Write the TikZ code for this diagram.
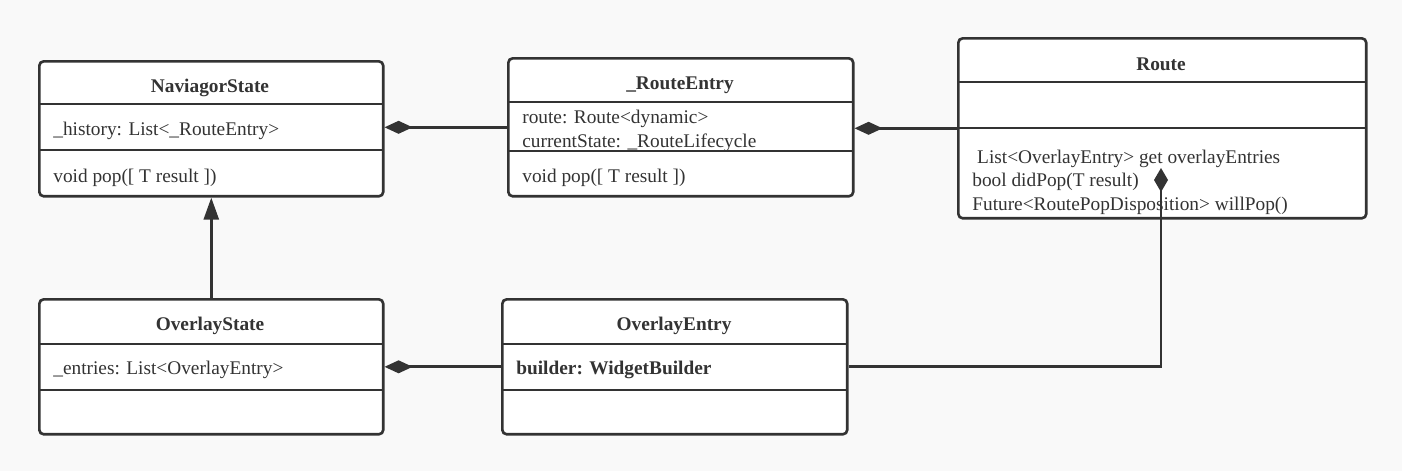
\documentclass[tikz,border=0pt]{standalone}
\usepackage{fontspec}
\setmainfont{Liberation Serif}
\usetikzlibrary{arrows.meta}
\definecolor{ink}{HTML}{333333}
\definecolor{paper}{HTML}{F9F9F9}
\tikzset{
  cls/.style={draw=ink, line width=1.5pt, rounded corners=2.5pt, fill=white, inner sep=0pt, anchor=north west},
  ttl/.style={font=\fontsize{11}{13.3}\selectfont\bfseries, text=ink, inner sep=0pt},
  mem/.style={font=\fontsize{11}{13.3}\selectfont, text=ink, anchor=west, inner sep=0pt, align=left},
  sep/.style={draw=ink, line width=1.5pt},
  comp/.style={draw=ink, line width=1.5pt, -{Diamond[length=0.56cm, width=0.26cm]}},
  compup/.style={draw=ink, line width=1.5pt, -{Diamond[length=0.48cm, width=0.28cm]}},
  gen/.style={draw=ink, line width=1.5pt, -{Triangle[length=0.44cm, width=0.30cm]}},
}

\begin{document}
\begin{tikzpicture}[x=0.02cm, y=-0.02cm]
    \fill[paper] (0,0) rectangle (1402,471);
    \useasboundingbox (0,0) rectangle (1402,471);
    % class boxes
    \node[cls, minimum width=6.88cm, minimum height=2.70cm] (nav) at (38,60) {};
    \node[cls, minimum width=6.90cm, minimum height=2.76cm] (entry) at (507,57) {};
    \node[cls, minimum width=8.16cm, minimum height=3.60cm] (route) at (957,37) {};
    \node[cls, minimum width=6.88cm, minimum height=2.70cm] (ostate) at (38,298) {};
    \node[cls, minimum width=6.90cm, minimum height=2.70cm] (oentry) at (501,298) {};
    % compartments
    \draw[sep] (38,104) -- (382,104);
    \draw[sep] (38,150) -- (382,150);
    \draw[sep] (507,102) -- (852,102);
    \draw[sep] (507,151) -- (852,151);
    \draw[sep] (957,82) -- (1365,82);
    \draw[sep] (957,128) -- (1365,128);
    \draw[sep] (38,344) -- (382,344);
    \draw[sep] (38,390) -- (382,390);
    \draw[sep] (501,344) -- (846,344);
    \draw[sep] (501,390) -- (846,390);
    % names
    \node[ttl] (navname) at (210,88) {NaviagorState};
    \node[ttl] (entryname) at (680,85) {\_RouteEntry};
    \node[ttl] (routename) at (1161,64) {Route};
    \node[ttl] (ostatename) at (210,326) {OverlayState};
    \node[ttl] (oentryname) at (674,326) {OverlayEntry};
    % members
    \node[mem] (navhist) at (53,131) {\_history: List<\_RouteEntry>};
    \node[mem] (navpop) at (53,178) {void pop([ T result ])};
    \node[mem] (entryroute) at (522,119) {route: Route<dynamic>};
    \node[mem] (entrystate) at (522,143) {currentState: \_RouteLifecycle};
    \node[mem] (entrypop) at (522,178) {void pop([ T result ])};
    \node[mem] (routeops) at (972,182) {\ List<OverlayEntry> get overlayEntries\\bool didPop(T result)\\Future<RoutePopDisposition> willPop()};
    \node[mem] (ostateentries) at (53,370) {\_entries: List<OverlayEntry>};
    \node[mem, font=\fontsize{11}{13.3}\selectfont\bfseries] (oentrybuild) at (516,370) {builder: WidgetBuilder};
    % relations
    \coordinate (hook) at (1161,168);
    \draw[comp] (entry.west) -- (entry.west -| nav.east);
    \draw[comp] (route.west) -- (route.west -| entry.east);
    \draw[gen] (ostate.north) -- (nav.south);
    \draw[comp] (oentry.west) -- (ostate.east);
    \draw[compup] (oentry.east) -| (hook);
\end{tikzpicture}
\end{document}
